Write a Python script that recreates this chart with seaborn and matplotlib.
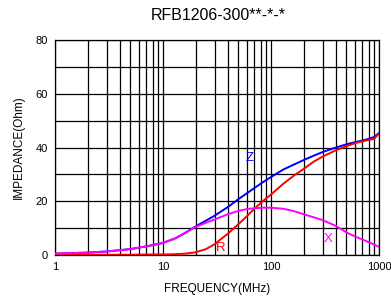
import numpy as np
import pandas as pd
import matplotlib
matplotlib.use("Agg")
import matplotlib.pyplot as plt
import seaborn as sns
from matplotlib.ticker import FixedLocator, NullFormatter

# values
freq = [1, 2, 3, 5, 7, 10, 13, 16, 20, 25, 30, 40, 50, 60, 70, 85, 100,
        130, 160, 200, 250, 300, 400, 500, 600, 700, 800, 900, 1000]
z_vals = [0.5, 0.9, 1.3, 2.2, 3.2, 4.5, 6.2, 8.2, 10.6, 12.8, 14.6, 17.9, 20.8, 23.0, 24.9, 27.2, 29.0,
          31.8, 33.5, 35.3, 37.0, 38.3, 40.0, 41.2, 42.0, 42.6, 43.2, 43.9, 45.4]
r_vals = [0.1, 0.1, 0.1, 0.1, 0.2, 0.2, 0.3, 0.5, 1.0, 2.2, 4.0, 8.0, 11.5, 14.5, 17.2, 20.2, 22.5,
          26.5, 29.3, 32.0, 34.8, 36.6, 39.0, 40.5, 41.6, 42.3, 42.8, 43.2, 45.2]
x_vals = [0.5, 0.9, 1.3, 2.2, 3.2, 4.5, 6.2, 8.2, 10.4, 12.0, 13.2, 15.2, 16.4, 17.1, 17.4, 17.6, 17.6,
          17.2, 16.4, 15.2, 14.0, 13.0, 10.8, 8.4, 6.9, 5.8, 4.8, 3.9, 3.0]

df = pd.concat([
    pd.DataFrame({"freq": freq, "imp": z_vals, "curve": "Z"}),
    pd.DataFrame({"freq": freq, "imp": r_vals, "curve": "R"}),
    pd.DataFrame({"freq": freq, "imp": x_vals, "curve": "X"}),
])
colors = {"Z": "#0000ff", "R": "#ff0000", "X": "#ff00ff"}

sns.set_style("white")
plt.rcParams["font.family"] = ["Liberation Sans", "DejaVu Sans"]
plt.rcParams.update({"text.color": "black", "axes.labelcolor": "black",
                     "xtick.color": "black", "ytick.color": "black"})

fig = plt.figure(figsize=(3.91, 3.03), dpi=100)
ax = fig.add_axes([55 / 391, 48 / 303, 324 / 391, 215 / 303])

sns.lineplot(data=df, x="freq", y="imp", hue="curve", palette=colors,
             linewidth=1.4, legend=False, ax=ax, zorder=3)

ax.set_xscale("log")
ax.set_xlim(1, 1000)
ax.set_ylim(0, 80)

minor = [m * 10 ** d for d in range(3) for m in range(2, 10)]
ax.xaxis.set_major_locator(FixedLocator([1, 10, 100, 1000]))
ax.xaxis.set_minor_locator(FixedLocator(minor))
ax.xaxis.set_minor_formatter(NullFormatter())
ax.set_xticklabels(["1", "10", "100", "1000"])
ax.set_yticks([0, 20, 40, 60, 80])
ax.set_yticks(range(0, 81, 10), minor=True)

ax.grid(True, which="both", color="black", linewidth=0.9)
ax.tick_params(axis="both", which="both", length=0, labelsize=8, pad=5)
for s in ax.spines.values():
    s.set_color("black")
    s.set_linewidth(0.9)

ax.set_xlabel("FREQUENCY(MHz)", fontsize=8.5, labelpad=8)
ax.set_ylabel("IMPEDANCE(Ohm)", fontsize=8.5, labelpad=8)
fig.text(218 / 391, 1 - 15 / 303, "RFB1206-300**-*-*", ha="center", va="center", fontsize=11.5)

ax.text(64, 36, "Z", color=colors["Z"], fontsize=9.5, ha="center", va="center")
ax.text(34, 2.6, "R", color=colors["R"], fontsize=9.5, ha="center", va="center")
ax.text(337, 6, "X", color=colors["X"], fontsize=9.5, ha="center", va="center")

fig.savefig("out.png", dpi=100)
